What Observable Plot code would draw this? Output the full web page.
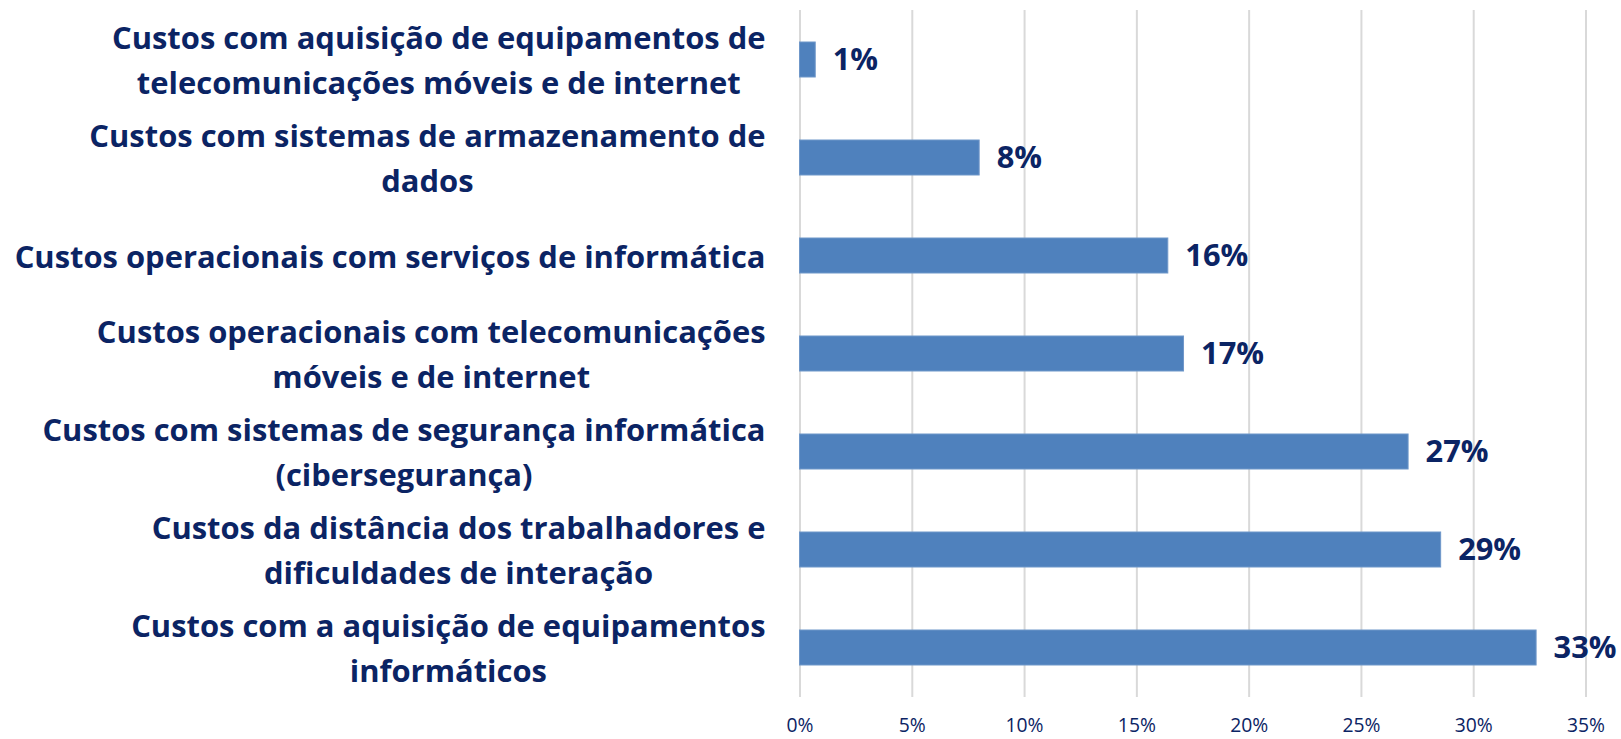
<!DOCTYPE html>
<html>
<head>
<meta charset="utf-8">
<script src="https://cdn.jsdelivr.net/npm/d3@7"></script>
<script src="https://cdn.jsdelivr.net/npm/@observablehq/plot@0.6"></script>
<style>
  html, body { margin: 0; padding: 0; background: #ffffff; }
  #chart svg { display: block; }
</style>
</head>
<body>
<div id="chart"></div>
<script>
const categories = [
  "Custos com aquisição de equipamentos de\ntelecomunicações móveis e de internet",
  "Custos com sistemas de armazenamento de\ndados",
  "Custos operacionais com serviços de informática",
  "Custos operacionais com telecomunicações\nmóveis e de internet",
  "Custos com sistemas de segurança informática\n(cibersegurança)",
  "Custos da distância dos trabalhadores e\ndificuldades de interação",
  "Custos com a aquisição de equipamentos\ninformáticos"
];
const values = [0.7, 8.0, 16.4, 17.1, 27.1, 28.55, 32.8];
const valueLabels = ["1%", "8%", "16%", "17%", "27%", "29%", "33%"];
const xTicks = [0, 5, 10, 15, 20, 25, 30, 35];
const xTickLabels = ["0%", "5%", "10%", "15%", "20%", "25%", "30%", "35%"];

const W = 1621, H = 739;
const marginLeft = 799.5, marginRight = 35.5, marginTop = 10, marginBottom = 42;
const fontFamily = "'Open Sans', Lato, sans-serif";
const navy = "#0b2464";
const barColor = "#4f81bd";

// fit font sizes so text widths match the reference
const canvas = document.createElement("canvas");
const ctx = canvas.getContext("2d");
function measure(text, size, weight) {
  ctx.font = `${weight} ${size}px ${fontFamily}`;
  return ctx.measureText(text).width;
}
const refLine = "Custos operacionais com serviços de informática";
const labelFs = Math.min(36, 30 * 751 / measure(refLine, 30, "bold"));
const valueFs = 63 * 30 / measure("33%", 30, "bold");
const tickFs = 20 * 27 / measure("0%", 20, "normal");

const pxPerUnit = (W - marginLeft - marginRight) / 35;
const labelRightPx = 765; // right edge of category labels
function labelCenter(cat) {
  const w = d3.max(cat.split("\n"), l => measure(l, labelFs, "bold"));
  const px = labelRightPx - w / 2;
  return (px - marginLeft) / pxPerUnit;
}

const data = categories.map((c, i) => ({cat: c, value: values[i], label: valueLabels[i]}));

const chart = Plot.plot({
  width: W,
  height: H,
  marginLeft, marginRight, marginTop, marginBottom,
  style: {fontFamily, background: "#ffffff", overflow: "visible"},
  x: {domain: [0, 35], ticks: xTicks, label: null},
  y: {domain: categories, paddingInner: 0.644, paddingOuter: 0.322, axis: null},
  marks: [
    Plot.ruleX(xTicks, {stroke: "#d9d9d9", strokeWidth: 2}),
    Plot.axisX(xTicks, {
      tickSize: 0,
      tickPadding: 21,
      fontSize: tickFs,
      fill: navy,
      label: null,
      tickFormat: (d) => xTickLabels[xTicks.indexOf(d)]
    }),
    Plot.barX(data, {x: "value", y: "cat", fill: barColor, stroke: "#6f97c9", strokeWidth: 1}),
    Plot.text(data, {
      x: "value", y: "cat", text: "label",
      textAnchor: "start", dx: 17,
      fontSize: valueFs, fontWeight: "bold", fill: navy
    }),
    Plot.text(data, {
      x: d => labelCenter(d.cat), y: "cat", text: "cat",
      textAnchor: "middle", dy: -3,
      lineHeight: 45.6 / labelFs,
      fontSize: labelFs, fontWeight: "bold", fill: navy
    })
  ]
});
document.getElementById("chart").append(chart);
</script>
</body>
</html>
